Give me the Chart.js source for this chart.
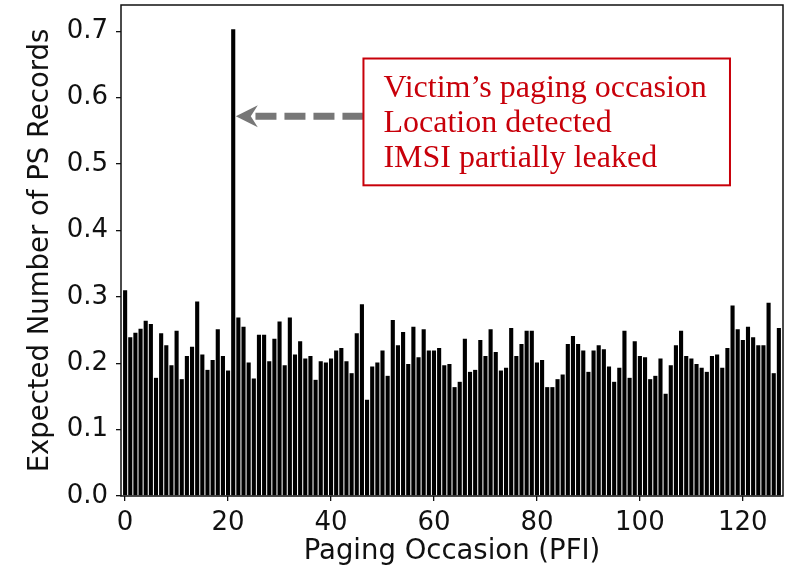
<!DOCTYPE html>
<html>
<head>
<meta charset="utf-8">
<script src="https://cdn.jsdelivr.net/npm/chart.js@4"></script>
<style>
  html, body { margin: 0; padding: 0; background: #fff; }
  #wrap { width: 793px; height: 572px; }
</style>
</head>
<body>
<div id="wrap"><canvas id="myChart" width="793" height="572"></canvas></div>
<script>
var ctx = document.getElementById('myChart');

// expected number of PS records per paging occasion (PFI 0..127)
var records = [
  0.310, 0.239, 0.246, 0.252, 0.264, 0.259, 0.178, 0.245, 0.227, 0.197,
  0.249, 0.176, 0.211, 0.225, 0.293, 0.213, 0.190, 0.205, 0.251, 0.211,
  0.189, 0.703, 0.269, 0.255, 0.201, 0.177, 0.243, 0.243, 0.203, 0.237,
  0.263, 0.197, 0.269, 0.213, 0.233, 0.207, 0.211, 0.175, 0.203, 0.201,
  0.207, 0.219, 0.223, 0.203, 0.185, 0.245, 0.289, 0.145, 0.195, 0.201,
  0.219, 0.181, 0.265, 0.227, 0.247, 0.199, 0.255, 0.209, 0.251, 0.219,
  0.219, 0.223, 0.197, 0.199, 0.164, 0.172, 0.237, 0.187, 0.190, 0.235,
  0.211, 0.251, 0.217, 0.189, 0.193, 0.253, 0.211, 0.229, 0.249, 0.249,
  0.201, 0.205, 0.164, 0.164, 0.176, 0.183, 0.229, 0.241, 0.229, 0.219,
  0.187, 0.219, 0.227, 0.221, 0.195, 0.172, 0.193, 0.249, 0.178, 0.233,
  0.211, 0.209, 0.176, 0.181, 0.207, 0.154, 0.197, 0.227, 0.249, 0.211,
  0.207, 0.199, 0.193, 0.187, 0.211, 0.213, 0.193, 0.223, 0.287, 0.251,
  0.235, 0.255, 0.239, 0.227, 0.227, 0.291, 0.185, 0.253
];
var pfi = records.map(function (v, i) { return i; });
var xTicks = [0, 20, 40, 60, 80, 100, 120];
var yTicks = [0.0, 0.1, 0.2, 0.3, 0.4, 0.5, 0.6, 0.7];
var noteLines = ['Victim\u2019s paging occasion', 'Location detected', 'IMSI partially leaked'];

var FONT = 'DejaVu Sans';
var RED = '#c8000a';

// black frame, dashed arrow and red note box
var annotate = {
  id: 'annotate',
  afterDraw: function (chart) {
    var c = chart.ctx, a = chart.chartArea;
    var xs = chart.scales.x, ys = chart.scales.y;
    c.save();
    c.strokeStyle = '#111';
    c.lineWidth = 1.5;
    c.strokeRect(a.left, a.top, a.right - a.left, a.bottom - a.top);

    var bx1 = xs.getPixelForValue(46.3), bx2 = xs.getPixelForValue(117.5);
    var by1 = ys.getPixelForValue(0.659), by2 = ys.getPixelForValue(0.468);
    var tipX = xs.getPixelForValue(21.5), ay = ys.getPixelForValue(0.572);

    // dashed shaft
    c.strokeStyle = '#777';
    c.lineWidth = 7;
    c.setLineDash([21, 8]);
    c.beginPath();
    c.moveTo(bx1, ay);
    c.lineTo(tipX + 18, ay);
    c.stroke();
    c.setLineDash([]);
    // head
    c.fillStyle = '#777';
    c.beginPath();
    c.moveTo(tipX, ay);
    c.lineTo(tipX + 22, ay - 11);
    c.lineTo(tipX + 15, ay);
    c.lineTo(tipX + 22, ay + 11);
    c.closePath();
    c.fill();

    // note box
    c.fillStyle = '#fff';
    c.fillRect(bx1, by1, bx2 - bx1, by2 - by1);
    c.strokeStyle = RED;
    c.lineWidth = 2;
    c.strokeRect(bx1, by1, bx2 - bx1, by2 - by1);
    c.fillStyle = RED;
    c.font = '32px "Liberation Serif"';
    c.textBaseline = 'alphabetic';
    c.textAlign = 'left';
    noteLines.forEach(function (t, i) {
      c.fillText(t, bx1 + 20, by1 + 38 + i * 35);
    });
    c.restore();
  }
};

var myChart = new Chart(ctx, {
  type: 'bar',
  data: {
    datasets: [{
      label: 'PS records',
      data: pfi.map(function (p, i) { return { x: p, y: records[i] }; }),
      backgroundColor: '#000',
      borderWidth: 0,
      barPercentage: 0.8,
      categoryPercentage: 1.0
    }]
  },
  options: {
    responsive: false,
    animation: false,
    layout: { padding: { top: 5, right: 10, left: 0, bottom: 0 } },
    plugins: {
      legend: { display: false },
      tooltip: { enabled: false }
    },
    scales: {
      x: {
        type: 'linear',
        min: -0.8,
        max: 127.8,
        bounds: 'data',
        offset: false,
        afterFit: function (s) {
          s.height = 76;
          s.paddingLeft = 0;
          s.paddingRight = 0;
        },
        afterBuildTicks: function (s) {
          s.ticks = xTicks.map(function (v) { return { value: v }; });
        },
        border: { display: false },
        grid: { drawOnChartArea: false, offset: false, tickLength: 5, color: '#111', lineWidth: 1.3 },
        ticks: {
          font: { family: FONT, size: 26 },
          color: '#111',
          padding: 7,
          maxRotation: 0,
          includeBounds: false
        },
        title: {
          display: true,
          text: 'Paging Occasion (PFI)',
          font: { family: FONT, size: 27.5 },
          color: '#111',
          padding: { top: 0, bottom: 4 }
        }
      },
      y: {
        min: 0,
        max: 0.7396,
        bounds: 'data',
        afterFit: function (s) {
          s.width = 121;
          s.paddingTop = 0;
          s.paddingBottom = 0;
        },
        afterBuildTicks: function (s) {
          s.ticks = yTicks.map(function (v) { return { value: v }; });
        },
        border: { display: false },
        grid: { drawOnChartArea: false, tickLength: 5, color: '#111', lineWidth: 1.3 },
        ticks: {
          font: { family: FONT, size: 26 },
          color: '#111',
          padding: 8,
          callback: function (v) { return v.toFixed(1); }
        },
        title: {
          display: true,
          text: 'Expected Number of PS Records',
          font: { family: FONT, size: 27.5 },
          color: '#111',
          padding: { top: 24, bottom: 0 }
        }
      }
    }
  },
  plugins: [annotate]
});

myChart.render();
</script>
</body>
</html>
